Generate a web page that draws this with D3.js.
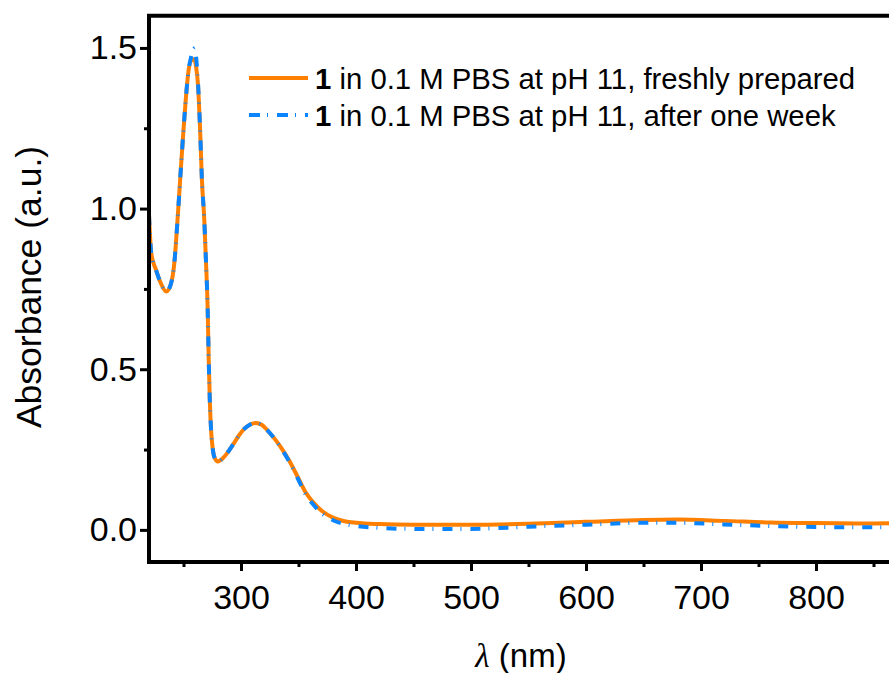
<!DOCTYPE html>
<html>
<head>
<meta charset="utf-8">
<script src="https://cdn.jsdelivr.net/npm/d3@7/dist/d3.min.js"></script>
<style>
  html, body { margin: 0; padding: 0; background: #fff; }
  svg { display: block; }
  text { font-family: Arial, "Liberation Sans", sans-serif; fill: #000; }
</style>
</head>
<body>
<svg id="chart" width="889" height="673"></svg>
<script>
// Wavelengths (nm)
const wavelength = [220, 222, 226, 230, 235, 239, 242, 245, 248, 250, 252.2, 254.4, 256.5, 259, 260, 261, 262.5, 264.5, 266, 268, 269.5, 271, 272, 273, 274, 275.5, 277, 280, 284, 288, 293, 298, 303, 308, 313, 318, 323, 330, 336, 342, 349, 356, 363, 371, 380, 390, 400, 420, 450, 500, 550, 600, 650, 680, 720, 760, 800, 850, 880, 900];
// "1" in 0.1 M PBS at pH 11, freshly prepared
const freshValues = [0.98, 0.86, 0.81, 0.77, 0.742, 0.765, 0.83, 0.975, 1.14, 1.245, 1.35, 1.43, 1.46, 1.465, 1.46, 1.44, 1.39, 1.24, 1.09, 0.97, 0.84, 0.69, 0.52, 0.39, 0.31, 0.25, 0.225, 0.213, 0.222, 0.239, 0.265, 0.293, 0.315, 0.328, 0.333, 0.327, 0.31, 0.28, 0.25, 0.215, 0.167, 0.118, 0.085, 0.057, 0.038, 0.027, 0.022, 0.018, 0.016, 0.016, 0.019, 0.025, 0.031, 0.032, 0.028, 0.023, 0.021, 0.02, 0.021, 0.021];
// "1" in 0.1 M PBS at pH 11, after one week
const weekValues = [0.98, 0.86, 0.81, 0.77, 0.742, 0.765, 0.83, 0.975, 1.14, 1.245, 1.35, 1.43, 1.47, 1.495, 1.50, 1.47, 1.40, 1.24, 1.09, 0.97, 0.84, 0.69, 0.52, 0.39, 0.31, 0.25, 0.225, 0.213, 0.222, 0.239, 0.265, 0.293, 0.315, 0.328, 0.333, 0.327, 0.31, 0.28, 0.248, 0.212, 0.163, 0.112, 0.078, 0.05, 0.03, 0.018, 0.012, 0.006, 0.003, 0.003, 0.01, 0.016, 0.022, 0.022, 0.017, 0.012, 0.009, 0.008, 0.009, 0.009];

const xMajorTicks = [300, 400, 500, 600, 700, 800];
const xMinorTicks = [250, 350, 450, 550, 650, 750, 850];
const yMajorTicks = [0.0, 0.5, 1.0, 1.5];
const yMinorTicks = [0.25, 0.75, 1.25];
const legendLabels = ["in 0.1 M PBS at pH 11, freshly prepared", "in 0.1 M PBS at pH 11, after one week"];
const compoundLabel = "1";

const svg = d3.select("#chart");
const mLeft = 149, mTop = 15.8, mBottom = 562;

const x = d3.scaleLinear().domain([220, 900]).range([mLeft, mLeft + 680 * 1.15]);
const y = d3.scaleLinear().domain([-0.1, 1.6]).range([mBottom, mTop]);

const orange = "#ff8000", blue = "#0a84ff";

svg.append("defs").append("clipPath").attr("id", "plotclip")
  .append("rect").attr("x", mLeft).attr("y", mTop).attr("width", 900).attr("height", mBottom - mTop);

const line = d3.line().x(d => x(d[0])).y(d => y(d[1])).curve(d3.curveMonotoneX);
const fresh = wavelength.map((w, i) => [w, freshValues[i]]);
const week = wavelength.map((w, i) => [w, weekValues[i]]);

const g = svg.append("g").attr("clip-path", "url(#plotclip)");
g.append("path").datum(fresh).attr("d", line)
  .attr("fill", "none").attr("stroke", orange).attr("stroke-width", 4).attr("stroke-linejoin", "round");
g.append("path").datum(week).attr("d", line)
  .attr("fill", "none").attr("stroke", blue).attr("stroke-width", 4)
  .attr("stroke-dasharray", "10 8 1 9");

const xAxis = d3.axisBottom(x).tickValues(xMajorTicks).tickSize(9).tickPadding(14).tickFormat(d3.format("d"));
const xAxisMinor = d3.axisBottom(x).tickValues(xMinorTicks).tickSize(5).tickFormat("");
const yAxis = d3.axisLeft(y).tickValues(yMajorTicks).tickSize(9).tickPadding(3).tickFormat(d3.format(".1f"));
const yAxisMinor = d3.axisLeft(y).tickValues(yMinorTicks).tickSize(5).tickFormat("");

function styleAxis(sel) {
  sel.select(".domain").remove();
  sel.selectAll(".tick line").attr("stroke", "#000").attr("stroke-width", 3);
  sel.selectAll(".tick text").style("font-size", "34px").attr("fill", "#000");
}

svg.append("g").attr("transform", `translate(0,${mBottom})`).call(xAxis).call(styleAxis);
svg.append("g").attr("transform", `translate(0,${mBottom})`).call(xAxisMinor).call(styleAxis);
svg.append("g").attr("transform", `translate(${mLeft},0)`).call(yAxis).call(styleAxis);
svg.append("g").attr("transform", `translate(${mLeft},0)`).call(yAxisMinor).call(styleAxis);

svg.append("path")
  .attr("d", `M${x(900)},${mTop} L${mLeft},${mTop} L${mLeft},${mBottom} L${x(900)},${mBottom}`)
  .attr("fill", "none").attr("stroke", "#000").attr("stroke-width", 4).attr("stroke-linecap", "square");

const xt = svg.append("text").attr("x", 521).attr("y", 667).attr("text-anchor", "middle").style("font-size", "33px");
xt.append("tspan").style("font-family", "'Liberation Serif', 'Times New Roman', serif").style("font-style", "italic").text("λ");
xt.append("tspan").text(" (nm)");

svg.append("text").attr("transform", "translate(41,287) rotate(-90)").attr("text-anchor", "middle")
  .style("font-size", "35.5px").text("Absorbance (a.u.)");

const legendY = [78, 115];
const legendStyles = [{c: orange, dash: null}, {c: blue, dash: "11 7 1 9"}];
legendLabels.forEach((lab, i) => {
  const ly = legendY[i];
  const l = svg.append("line").attr("x1", 249).attr("x2", 308).attr("y1", ly).attr("y2", ly)
    .attr("stroke", legendStyles[i].c).attr("stroke-width", 4);
  if (legendStyles[i].dash) l.attr("stroke-dasharray", legendStyles[i].dash);
  const t = svg.append("text").attr("x", 315).attr("y", ly + 10.5).style("font-size", "29.3px");
  t.append("tspan").style("font-weight", "bold").text(compoundLabel);
  t.append("tspan").text(" " + lab);
});
</script>
</body>
</html>
